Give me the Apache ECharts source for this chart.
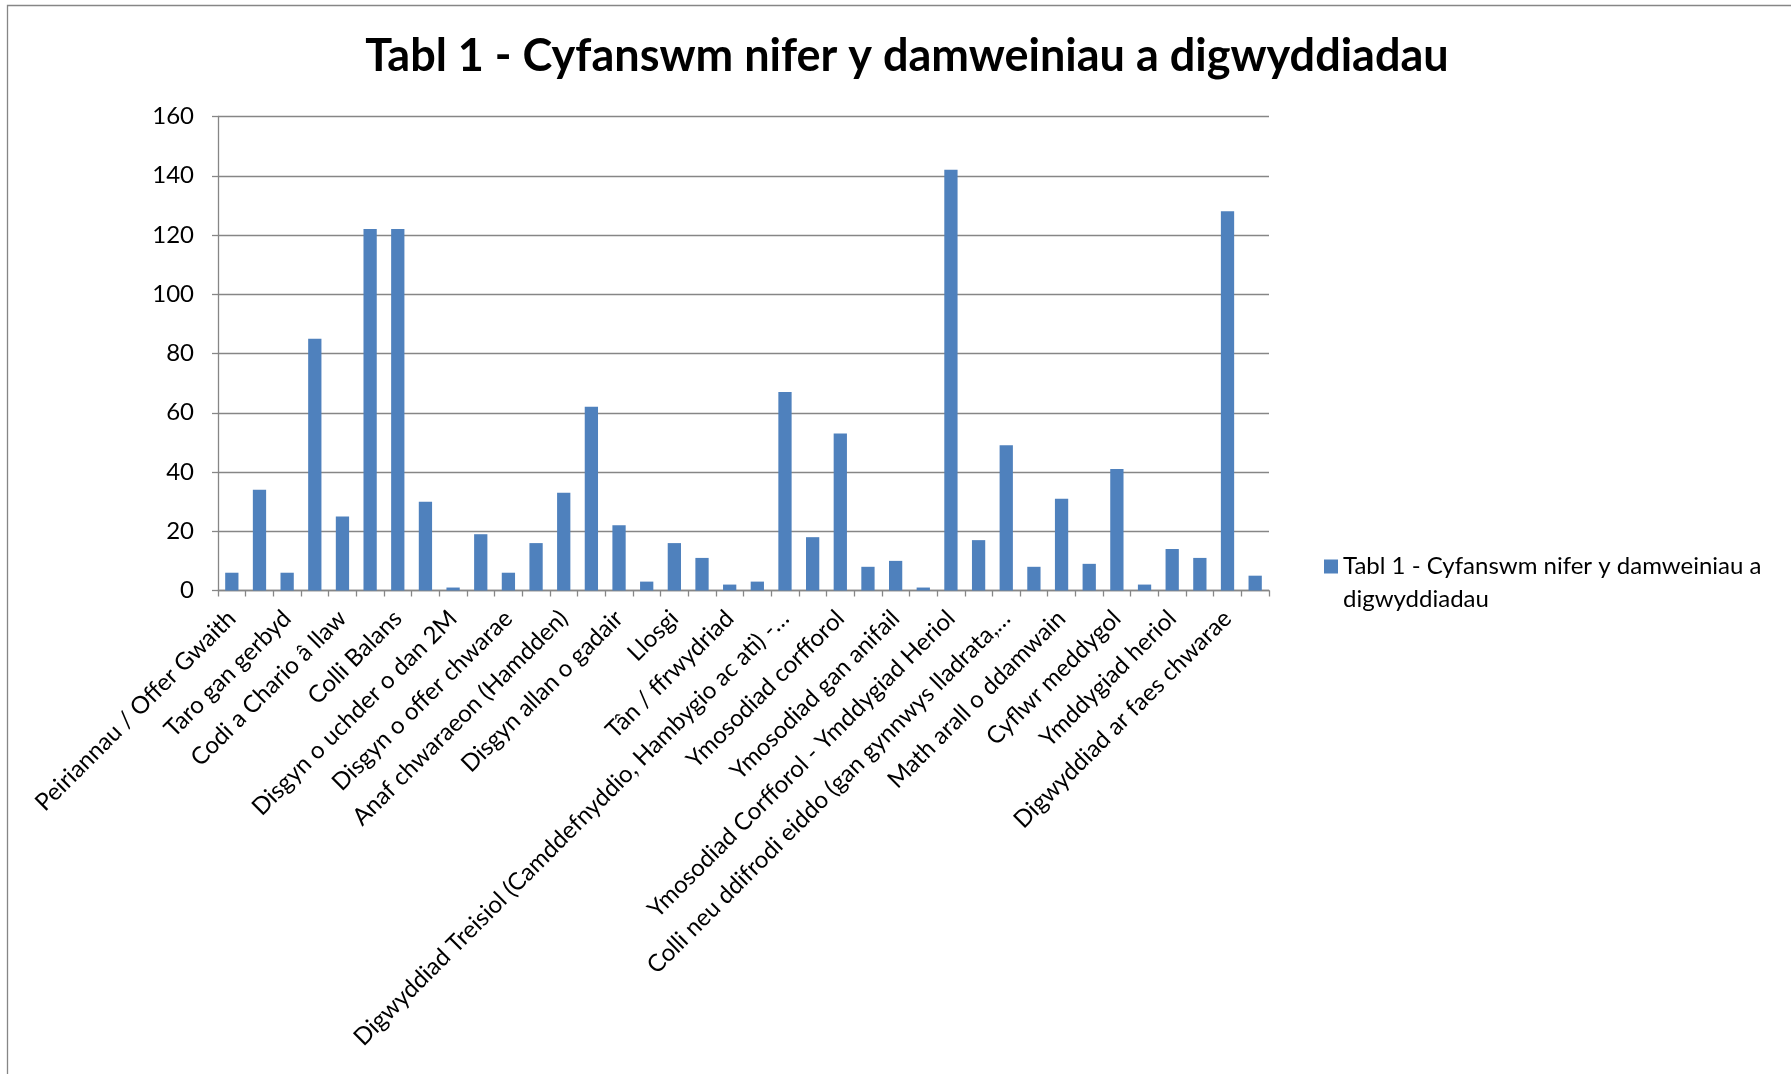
<!DOCTYPE html>
<html><head><meta charset="utf-8">
<script src="https://cdn.jsdelivr.net/npm/echarts@6/dist/echarts.min.js"></script>
<style>html,body{margin:0;padding:0;background:#fff}#c{width:1791px;height:1074px}</style>
</head><body><div id="c"></div>
<script>
var titleText = 'Tabl 1 - Cyfanswm nifer y damweiniau a digwyddiadau';
var seriesName = 'Tabl 1 - Cyfanswm nifer y damweiniau a digwyddiadau';
var categories = [
 'Peiriannau / Offer Gwaith', '(categori 2)',
 'Taro gan gerbyd', '(categori 4)',
 'Codi a Chario â llaw', '(categori 6)',
 'Colli Balans', '(categori 8)',
 'Disgyn o uchder o dan 2M', '(categori 10)',
 'Disgyn o offer chwarae', '(categori 12)',
 'Anaf chwaraeon (Hamdden)', '(categori 14)',
 'Disgyn allan o gadair', '(categori 16)',
 'Llosgi', '(categori 18)',
 'Tân / ffrwydriad', '(categori 20)',
 'Digwyddiad Treisiol (Camddefnyddio, Hambygio ac ati) -…', '(categori 22)',
 'Ymosodiad corfforol', '(categori 24)',
 'Ymosodiad gan anifail', '(categori 26)',
 'Ymosodiad Corfforol - Ymddygiad Heriol', '(categori 28)',
 'Colli neu ddifrodi eiddo (gan gynnwys lladrata,…', '(categori 30)',
 'Math arall o ddamwain', '(categori 32)',
 'Cyflwr meddygol', '(categori 34)',
 'Ymddygiad heriol', '(categori 36)',
 'Digwyddiad ar faes chwarae', '(categori 38)'
];
var values = [6, 34, 6, 85, 25, 122, 122, 30, 1, 19, 6, 16, 33, 62, 22, 3, 16, 11, 2, 3,
              67, 18, 53, 8, 10, 1, 142, 17, 49, 8, 31, 9, 41, 2, 14, 11, 128, 5];
var yMin = 0, yMax = 160, yStep = 20;

var chart = echarts.init(document.getElementById('c'), null, {renderer: 'canvas'});
var font = 'Lato, "Liberation Sans", sans-serif';
chart.setOption({
  animation: false,
  backgroundColor: '#ffffff',
  textStyle: {fontFamily: font},
  title: {
    text: titleText, left: 902, top: 29, textAlign: 'center',
    textStyle: {fontFamily: font, fontWeight: 'bold', fontSize: 45, color: '#000'}
  },
  legend: {
    left: 1319, top: 512, itemWidth: 14, itemHeight: 14, itemGap: 8,
    icon: 'rect',
    formatter: function () { return ' \nTabl 1 - Cyfanswm nifer y damweiniau a\ndigwyddiadau'; },
    textStyle: {fontFamily: font, fontSize: 24, color: '#000', lineHeight: 33}
  },
  grid: {left: 218, right: 522, top: 116.5, bottom: 483.5, containLabel: false},
  xAxis: {
    type: 'category', data: categories,
    axisLine: {lineStyle: {color: '#868686', width: 1.3}},
    axisTick: {show: true, interval: 0, length: 6, lineStyle: {color: '#868686', width: 1.3}},
    axisLabel: {interval: 1, rotate: 45, margin: 24, fontFamily: font, fontSize: 24, color: '#000'}
  },
  yAxis: {
    type: 'value', min: yMin, max: yMax, interval: yStep,
    axisLine: {show: true, lineStyle: {color: '#868686', width: 1.3}},
    axisTick: {show: true, length: 6, lineStyle: {color: '#868686', width: 1.3}},
    axisLabel: {margin: 24, fontFamily: font, fontSize: 24, color: '#000'},
    splitLine: {lineStyle: {color: '#868686', width: 1.3}}
  },
  series: [{
    name: seriesName, type: 'bar', data: values,
    barCategoryGap: '52%',
    itemStyle: {color: '#4F81BD'}
  }],
  graphic: [{
    type: 'rect', silent: true, z: -1,
    shape: {x: 7.5, y: 5.5, width: 1900, height: 1200},
    style: {fill: null, stroke: '#868686', lineWidth: 1.3}
  }]
});
</script></body></html>
